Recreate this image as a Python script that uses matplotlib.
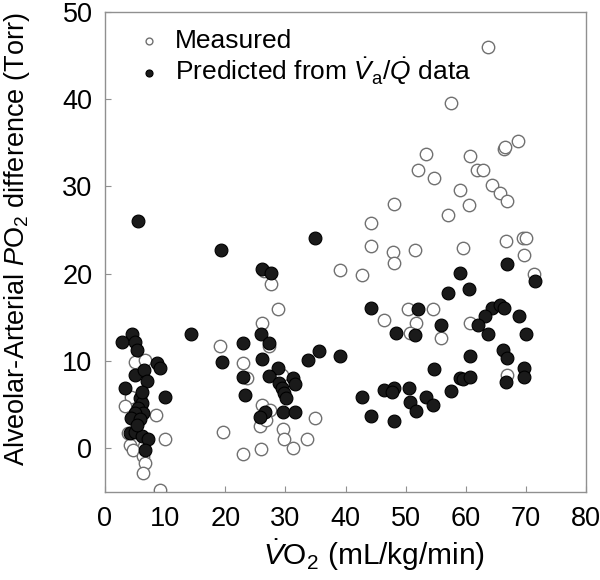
import matplotlib
matplotlib.use("Agg")
import matplotlib.pyplot as plt

plt.rcParams['font.family'] = ['Liberation Sans', 'DejaVu Sans']
plt.rcParams['mathtext.fontset'] = 'custom'
plt.rcParams['mathtext.rm'] = 'Liberation Sans'
plt.rcParams['mathtext.it'] = 'Liberation Sans:italic'

# Measured A-a PO2 difference (open circles)
measured_x = [63.7, 57.6, 68.7, 66.3, 66.5, 60.6, 53.4, 52.0, 61.9, 62.9, 54.7, 59.1, 64.3,
              65.6, 66.8, 60.5, 48.0, 57.0, 44.3, 66.6, 69.5, 70.0, 59.5, 69.7, 71.4, 44.3,
              47.8, 48.1, 51.6, 39.0, 42.7, 50.4, 54.6, 46.4, 51.7, 50.7, 55.9, 60.7, 66.8,
              27.6, 28.7, 26.1, 27.2, 19.1, 22.9, 23.6, 29.4, 26.1, 27.5, 25.8, 26.8, 34.9,
              29.6, 29.7, 33.6, 19.6, 26.0, 31.2, 22.9, 26.4,
              5.0, 6.7, 4.4, 3.3, 8.5, 3.9, 10.0, 4.7, 4.2, 4.7, 6.4, 6.7, 6.3, 9.2]
measured_y = [46.0, 39.5, 35.2, 34.3, 34.5, 33.5, 33.7, 31.9, 31.9, 31.9, 30.9, 29.6, 30.1,
              29.2, 28.3, 27.8, 28.0, 26.7, 25.8, 23.7, 24.1, 24.1, 22.9, 22.1, 19.9, 23.1,
              22.5, 21.2, 22.7, 20.4, 19.8, 15.9, 15.9, 14.7, 14.3, 13.2, 12.6, 14.3, 8.4,
              18.8, 15.9, 14.3, 11.7, 11.7, 9.8, 8.0, 8.4, 5.0, 4.4, 2.5, 3.2, 3.4,
              2.2, 1.0, 1.0, 1.9, -0.1, 0.0, -0.7, 20.3,
              9.9, 10.1, 5.9, 4.8, 3.8, 1.7, 1.0, 0.8, 0.4, -0.2, -0.9, -1.7, -2.8, -4.8]

# Predicted from VA/Q data (filled circles)
predicted_x = [66.8, 59.1, 57.0, 60.5, 71.5, 44.3, 52.0, 55.9, 48.3, 51.6, 39.0, 54.7, 59.1,
               42.7, 46.4, 48.1, 47.7, 50.6, 50.7, 51.7, 53.4, 54.6, 57.5, 44.3, 48.0, 64.3,
               65.6, 66.4, 63.1, 68.8, 62.0, 63.7, 70.0, 66.1, 66.8, 60.6, 69.6, 69.6, 59.5,
               60.7, 66.6,
               34.9, 19.3, 26.1, 27.6, 26.0, 23.0, 27.2, 35.5, 33.7, 19.4, 26.1, 28.7, 27.2,
               22.9, 31.2, 29.0, 31.6, 29.4, 29.8, 30.1, 23.3, 26.6, 25.7, 29.6, 31.6,
               5.5, 4.5, 14.3, 2.9, 5.0, 5.3, 8.6, 9.2, 5.0, 6.5, 6.9, 3.3, 10.0, 5.8, 6.1,
               5.5, 6.4, 5.0, 4.4, 5.8, 4.2, 5.0, 6.1, 7.2, 6.7, 6.2, 5.3]
predicted_y = [21.1, 20.1, 17.8, 18.2, 19.1, 16.1, 15.9, 14.1, 13.2, 13.0, 10.6, 9.1, 8.0,
               5.9, 6.7, 6.9, 6.4, 6.9, 5.3, 4.3, 5.9, 4.9, 6.5, 3.7, 3.1, 16.1,
               16.4, 16.1, 15.1, 15.1, 14.1, 13.1, 13.1, 11.3, 10.3, 10.5, 9.2, 8.2, 7.9,
               8.2, 7.6,
               24.1, 22.7, 20.5, 20.1, 13.1, 12.0, 12.0, 11.1, 10.1, 9.9, 10.2, 9.2, 8.3,
               8.2, 8.0, 7.5, 7.3, 6.9, 6.3, 5.7, 6.1, 4.2, 3.6, 4.2, 4.2,
               26.0, 13.1, 13.1, 12.2, 12.2, 11.3, 9.8, 9.2, 8.4, 8.9, 7.7, 6.9, 5.9, 5.7, 5.2,
               4.6, 4.0, 4.0, 3.5, 3.3, 1.7, 1.9, 1.4, 1.0, -0.2, 6.4, 2.6]

fig = plt.figure(figsize=(6, 5.8), dpi=100)
ax = fig.add_axes([0.175, 0.152, 0.802, 0.828])

ax.scatter(measured_x, measured_y, s=80, facecolors='white', edgecolors='#707070',
           linewidths=1.0, label='Measured', zorder=2)
ax.scatter(predicted_x, predicted_y, s=85, facecolors='#1a1a1a', edgecolors='black',
           linewidths=0.8, label=r'Predicted from $\dot{V}_\mathrm{a}/\dot{Q}$ data', zorder=3)

ax.set_xlim(0, 80)
ax.set_ylim(-5, 50)
ax.set_xticks(range(0, 81, 10))
ax.set_yticks(range(0, 51, 10))
ax.tick_params(direction='in', length=4, width=0.8, color='#909090', labelsize=19.5)
ax.tick_params(axis='x', pad=10)
ax.tick_params(axis='y', pad=9)
for sp in ax.spines.values():
    sp.set_color('#909090')
    sp.set_linewidth(1.0)

ax.set_xlabel(r'$\dot{V}$O$_2$ (mL/kg/min)', fontsize=21.5, labelpad=4)
ax.set_ylabel(r'Alveolar-Arterial $P$O$_2$ difference (Torr)', fontsize=19.5, labelpad=22)
ax.xaxis.label.set_x(0.56)
ax.yaxis.label.set_y(0.527)

ax.legend(loc='upper left', bbox_to_anchor=(0.042, 0.985), frameon=False, fontsize=19,
          markerscale=0.55, handlelength=1.0, handletextpad=0.5, labelspacing=0.05,
          borderaxespad=0.0)

fig.savefig('out.png', dpi=100)
